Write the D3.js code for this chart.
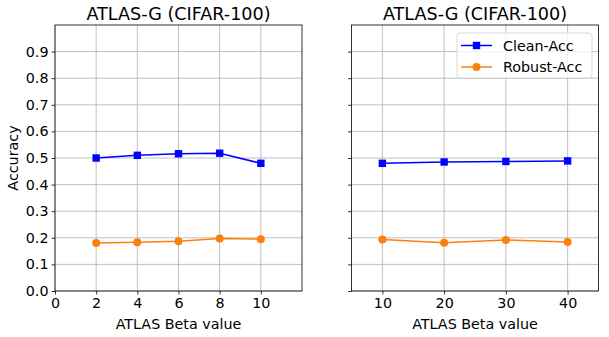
<!DOCTYPE html>
<html>
<head>
<meta charset="utf-8">
<script src="https://cdn.jsdelivr.net/npm/d3@7"></script>
<style>
  body { margin: 0; background: #fff; }
  svg { display: block; font-family: "DejaVu Sans", sans-serif; }
</style>
</head>
<body>
<svg width="609" height="337"></svg>
<script>
// values
var betaLeft = [2, 4, 6, 8, 10];
var cleanLeft = [0.500, 0.510, 0.516, 0.518, 0.480];
var robustLeft = [0.180, 0.183, 0.187, 0.197, 0.195];

var betaRight = [10, 20, 30, 40];
var cleanRight = [0.480, 0.485, 0.487, 0.489];
var robustRight = [0.194, 0.181, 0.192, 0.184];

var yTicks = [0, 0.1, 0.2, 0.3, 0.4, 0.5, 0.6, 0.7, 0.8, 0.9];
var xTicksLeft = [0, 2, 4, 6, 8, 10];
var xTicksRight = [10, 20, 30, 40];
var seriesNames = ["Clean-Acc", "Robust-Acc"];

var svg = d3.select("svg");
var plotTop = 25, plotBottom = 291;
var tickFont = "14.3px", titleFont = "17.6px";

var y = d3.scaleLinear().domain([0, 1]).range([plotBottom, plotTop]);

var panel = function(left, right, xdom, xs, xticks, clean, robust, showY, showLegend) {
  var g = svg.append("g");
  var x = d3.scaleLinear().domain(xdom).range([left, right]);

  // grid
  g.selectAll(".gx").data(xticks).enter().append("line")
    .attr("x1", function(d) { return x(d) }).attr("x2", function(d) { return x(d) })
    .attr("y1", plotTop).attr("y2", plotBottom)
    .style("stroke", "#b0b0b0").style("stroke-width", 0.8);
  g.selectAll(".gy").data(yTicks).enter().append("line")
    .attr("x1", left).attr("x2", right)
    .attr("y1", function(d) { return y(d) }).attr("y2", function(d) { return y(d) })
    .style("stroke", "#b0b0b0").style("stroke-width", 0.8);

  // axes
  g.append("g").attr("transform", "translate(0," + plotBottom + ")")
    .call(d3.axisBottom(x).tickValues(xticks).tickSizeInner(3.5).tickSizeOuter(0).tickPadding(3).tickFormat(d3.format("d")));
  g.append("g").attr("transform", "translate(" + left + ",0)")
    .call(d3.axisLeft(y).tickValues(yTicks).tickSizeInner(3.5).tickSizeOuter(0).tickPadding(3)
      .tickFormat(showY ? d3.format(".1f") : function() { return "" }));
  g.selectAll(".domain").remove();
  g.selectAll(".tick line").style("stroke", "#000").style("stroke-width", 0.8);
  g.selectAll(".tick text").style("font-size", tickFont).style("fill", "#000")
    .style("font-family", "'DejaVu Sans', sans-serif");

  // frame
  g.append("rect").attr("x", left).attr("y", plotTop)
    .attr("width", right - left).attr("height", plotBottom - plotTop)
    .style("fill", "none").style("stroke", "#000").style("stroke-width", 0.8);

  var line = d3.line().x(function(d) { return x(d[0]) }).y(function(d) { return y(d[1]) });
  var cpts = xs.map(function(v, i) { return [v, clean[i]] });
  var rpts = xs.map(function(v, i) { return [v, robust[i]] });

  g.append("path").datum(cpts).attr("d", line)
    .style("fill", "none").style("stroke", "#0000ff").style("stroke-width", 1.5);
  g.selectAll(".sq").data(cpts).enter().append("rect")
    .attr("x", function(d) { return x(d[0]) - 3.7 }).attr("y", function(d) { return y(d[1]) - 3.7 })
    .attr("width", 7.4).attr("height", 7.4).style("fill", "#0000ff");

  g.append("path").datum(rpts).attr("d", line)
    .style("fill", "none").style("stroke", "#ff7f0e").style("stroke-width", 1.5);
  g.selectAll(".dot").data(rpts).enter().append("circle")
    .attr("cx", function(d) { return x(d[0]) }).attr("cy", function(d) { return y(d[1]) })
    .attr("r", 4).style("fill", "#ff7f0e");

  // titles
  g.append("text").attr("x", (left + right) / 2).attr("y", 20)
    .attr("text-anchor", "middle").style("font-size", titleFont).text("ATLAS-G (CIFAR-100)");
  g.append("text").attr("x", (left + right) / 2).attr("y", 329)
    .attr("text-anchor", "middle").style("font-size", tickFont).text("ATLAS Beta value");

  if (showLegend) {
    var lg = g.append("g");
    lg.append("rect").attr("x", 457).attr("y", 33).attr("width", 135).attr("height", 45)
      .attr("rx", 3).style("fill", "#fff").style("fill-opacity", 0.8)
      .style("stroke", "#d0d0d0").style("stroke-width", 0.8);
    var rows = [45.5, 67];
    seriesNames.forEach(function(n, i) {
      var col = i == 0 ? "#0000ff" : "#ff7f0e";
      lg.append("line").attr("x1", 461).attr("x2", 492).attr("y1", rows[i]).attr("y2", rows[i])
        .style("stroke", col).style("stroke-width", 1.5);
      if (i == 0) {
        lg.append("rect").attr("x", 476.5 - 3.7).attr("y", rows[i] - 3.7).attr("width", 7.4).attr("height", 7.4).style("fill", col);
      } else {
        lg.append("circle").attr("cx", 476.5).attr("cy", rows[i]).attr("r", 4).style("fill", col);
      }
      lg.append("text").attr("x", 503).attr("y", rows[i] + 5).style("font-size", tickFont).text(n);
    });
  }
};

panel(55, 302, [0, 12], betaLeft, xTicksLeft, cleanLeft, robustLeft, true, false);
panel(351.5, 598.5, [5, 45], betaRight, xTicksRight, cleanRight, robustRight, false, true);

svg.append("text").attr("transform", "translate(18," + ((plotTop + plotBottom) / 2) + ") rotate(-90)")
  .attr("text-anchor", "middle").style("font-size", tickFont).text("Accuracy");
</script>
</body>
</html>
